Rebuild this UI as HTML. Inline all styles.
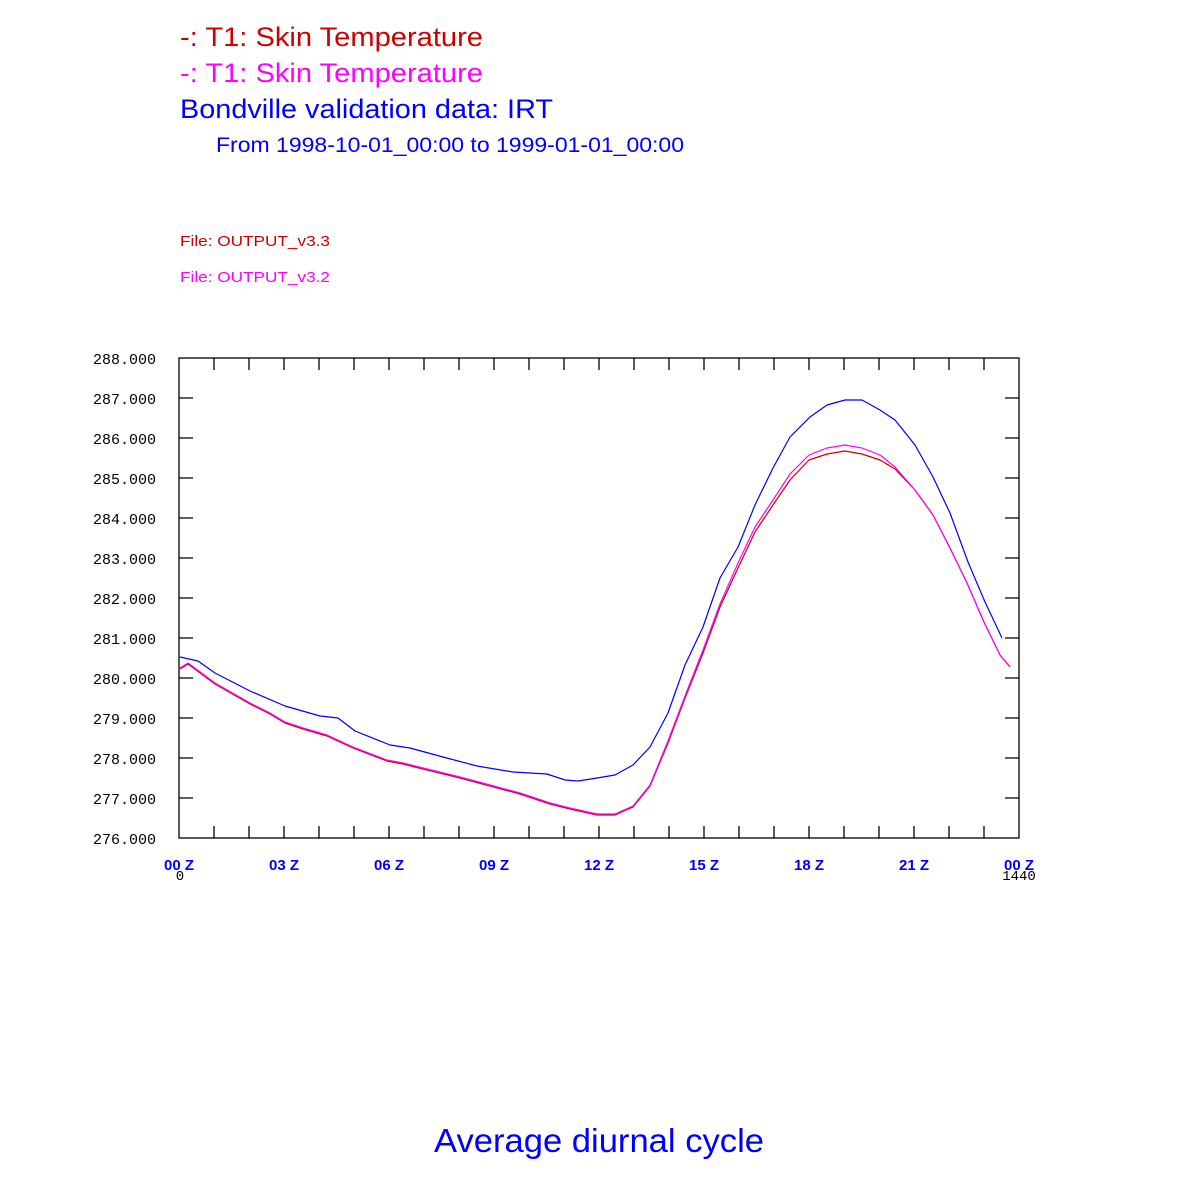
<!DOCTYPE html>
<html><head><meta charset="utf-8"><style>html,body{margin:0;padding:0;background:#fff}svg{display:block}</style></head>
<body>
<svg width="1200" height="1200" xmlns="http://www.w3.org/2000/svg" font-family="Liberation Sans, sans-serif">
<rect width="1200" height="1200" fill="#fff"/>
<text x="180" y="46" font-size="27" fill="#cc0000" textLength="303" lengthAdjust="spacingAndGlyphs">-: T1: Skin Temperature</text>
<text x="180" y="82" font-size="27" fill="#ff00ff" textLength="303" lengthAdjust="spacingAndGlyphs">-: T1: Skin Temperature</text>
<text x="180" y="118" font-size="27" fill="#0000ff" textLength="373" lengthAdjust="spacingAndGlyphs">Bondville validation data: IRT</text>
<text x="216" y="152" font-size="21" fill="#0000ff" textLength="468" lengthAdjust="spacingAndGlyphs">From 1998-10-01_00:00 to 1999-01-01_00:00</text>
<text x="180" y="246" font-size="15" fill="#cc0000" textLength="150" lengthAdjust="spacingAndGlyphs">File: OUTPUT_v3.3</text>
<text x="180" y="282" font-size="15" fill="#ff00ff" textLength="150" lengthAdjust="spacingAndGlyphs">File: OUTPUT_v3.2</text>
<text x="599" y="1152" font-size="33" fill="#0000ff" text-anchor="middle" textLength="330" lengthAdjust="spacingAndGlyphs">Average diurnal cycle</text>
<g stroke="#000" stroke-width="1.3" fill="none">
<rect x="179" y="358" width="840" height="480"/>
<path d="M179 398h14M179 438h14M179 478h14M179 518h14M179 558h14M179 598h14M179 638h14M179 678h14M179 718h14M179 758h14M179 798h14
M1019 398h-14M1019 438h-14M1019 478h-14M1019 518h-14M1019 558h-14M1019 598h-14M1019 638h-14M1019 678h-14M1019 718h-14M1019 758h-14M1019 798h-14"/>
<path d="M214 838v-12M249 838v-12M284 838v-12M319 838v-12M354 838v-12M389 838v-12M424 838v-12M459 838v-12M494 838v-12M529 838v-12M564 838v-12M599 838v-12M634 838v-12M669 838v-12M704 838v-12M739 838v-12M774 838v-12M809 838v-12M844 838v-12M879 838v-12M914 838v-12M949 838v-12M984 838v-12
M214 358v12M249 358v12M284 358v12M319 358v12M354 358v12M389 358v12M424 358v12M459 358v12M494 358v12M529 358v12M564 358v12M599 358v12M634 358v12M669 358v12M704 358v12M739 358v12M774 358v12M809 358v12M844 358v12M879 358v12M914 358v12M949 358v12M984 358v12"/>
</g>
<g font-family="Liberation Mono, monospace" font-size="15" fill="#000" text-anchor="end">
<text x="156" y="364">288.000</text><text x="156" y="404">287.000</text><text x="156" y="444">286.000</text><text x="156" y="484">285.000</text><text x="156" y="524">284.000</text><text x="156" y="564">283.000</text><text x="156" y="604">282.000</text><text x="156" y="644">281.000</text><text x="156" y="684">280.000</text><text x="156" y="724">279.000</text><text x="156" y="764">278.000</text><text x="156" y="804">277.000</text><text x="156" y="844">276.000</text>
</g>
<g font-size="15" font-weight="bold" fill="#0000ff" text-anchor="middle">
<text x="179" y="870">00 Z</text><text x="284" y="870">03 Z</text><text x="389" y="870">06 Z</text><text x="494" y="870">09 Z</text><text x="599" y="870">12 Z</text><text x="704" y="870">15 Z</text><text x="809" y="870">18 Z</text><text x="914" y="870">21 Z</text><text x="1019" y="870">00 Z</text>
</g>
<g font-family="Liberation Mono, monospace" font-size="14" fill="#000" text-anchor="middle">
<text x="180" y="880">0</text><text x="1019" y="880">1440</text>
</g>
<g fill="none" stroke-width="1.2" stroke-linejoin="round">
<polyline stroke="#0000ff" points="180,657 198,661 215,673 250,691 285,706 320,716 338,718 355,731 390,745 410,748 443,757 477,766 513,772 547,774 565,780 578,781 597,778 615,775 633,765 650,747 668,713 685,665 703,627 720,578 738,547 755,505 773,468 790,437 810,417 827,405 845,400 862,400 880,410 895,420 915,445 933,477 950,513 968,562 985,602 1002,638"/>
<polyline stroke="#cc0000" points="180,669 188,664 215,684 250,704 270,714 285,723 303,729 327,736 340,742 353,748 387,761 403,764 423,769 460,778 490,786 520,794 550,804 570,809 597,815 615,815 633,807 650,786 668,743 685,698 703,653 720,607 738,568 755,532 773,505 790,480 809,460 827,454 845,451 862,454 880,460 895,469 915,490 933,515 950,548 967,583 983,620 1000,655 1010,667"/>
<polyline stroke="#ff00ff" points="180,668 188,663 215,683 250,703 270,713 285,722 303,728 327,735 340,741 353,747 387,760 403,763 423,768 460,777 490,785 520,793 550,803 570,808 597,814 615,814 633,806 650,785 668,741 685,696 703,650 720,604 738,563 755,527 773,500 790,474 809,455 827,448 845,445 862,448 880,455 895,467 915,490 933,515 950,548 967,583 983,620 1000,655 1010,667"/>
</g>
</svg>
</body></html>
